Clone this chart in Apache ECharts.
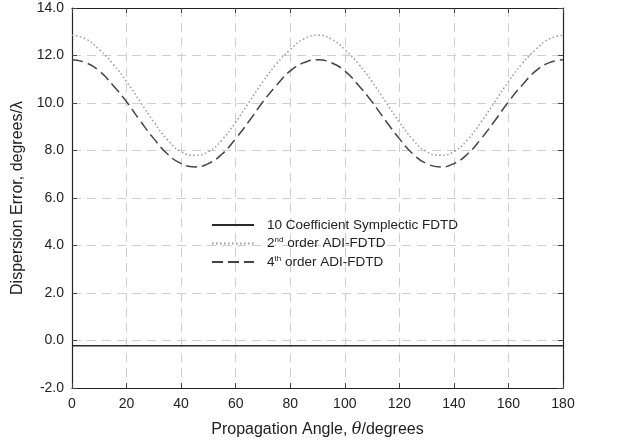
<!DOCTYPE html>
<html>
<head>
<meta charset="utf-8">
<script src="https://cdn.jsdelivr.net/npm/echarts@6/dist/echarts.min.js"></script>
<style>
  html, body { margin: 0; padding: 0; background: #fff; }
  #grafico { width: 623px; height: 443px; }
</style>
</head>
<body>
<div id="grafico"></div>
<script>
// propagation angle, degrees
const angulos = [0, 5, 10, 15, 20, 25, 30, 35, 40, 45, 50, 55, 60, 65, 70, 75, 80, 85, 90,
  95, 100, 105, 110, 115, 120, 125, 130, 135, 140, 145, 150, 155, 160, 165, 170, 175, 180]

// 10 coefficient symplectic FDTD (flat)
const simplectico = [-0.22, -0.22, -0.22, -0.22, -0.22, -0.22, -0.22, -0.22, -0.22, -0.22,
  -0.22, -0.22, -0.22, -0.22, -0.22, -0.22, -0.22, -0.22, -0.22, -0.22, -0.22, -0.22, -0.22,
  -0.22, -0.22, -0.22, -0.22, -0.22, -0.22, -0.22, -0.22, -0.22, -0.22, -0.22, -0.22, -0.22, -0.22]

// 2nd order ADI-FDTD
const adi2 = [12.85, 12.7, 12.25, 11.65, 10.9, 10.05, 9.2, 8.45, 7.95, 7.8, 7.95, 8.45, 9.2, 10.05,
  10.9, 11.65, 12.25, 12.7, 12.85, 12.7, 12.25, 11.65, 10.9, 10.05, 9.2, 8.45, 7.95, 7.8, 7.95,
  8.45, 9.2, 10.05, 10.9, 11.65, 12.25, 12.7, 12.85]

// 4th order ADI-FDTD
const adi4 = [11.82, 11.7, 11.35, 10.75, 10.05, 9.25, 8.5, 7.85, 7.45, 7.31, 7.45, 7.85, 8.5, 9.25,
  10.05, 10.75, 11.35, 11.7, 11.82, 11.7, 11.35, 10.75, 10.05, 9.25, 8.5, 7.85, 7.45, 7.31, 7.45,
  7.85, 8.5, 9.25, 10.05, 10.75, 11.35, 11.7, 11.82]

const nombres = ['10 Coefficient Symplectic FDTD', '2nd order ADI-FDTD', '4th order ADI-FDTD']

const fuente = 'Liberation Sans, Arial, sans-serif'
const par = (ys) => angulos.map((a, i) => [a, ys[i]])

const chart = echarts.init(document.getElementById('grafico'))

const gridLine = {
  show: true,
  lineStyle: { color: '#cfcfcf', type: [9, 6], width: 1 }
}

const option = {
  backgroundColor: '#ffffff',
  animation: false,
  grid: { left: 72, right: 60, top: 8, bottom: 55, show: false },
  legend: {
    left: 206,
    top: 213,
    orient: 'vertical',
    itemWidth: 42,
    itemHeight: 14,
    itemGap: 4,
    data: nombres,
    itemStyle: { opacity: 0 },
    textStyle: {
      fontFamily: fuente,
      fontSize: 13.5,
      color: '#222',
      padding: [0, 0, 0, 8],
      rich: {
        sup: { fontSize: 8, verticalAlign: 'top', padding: [0, 0, 7, 0], fontFamily: fuente, color: '#222' }
      }
    },
    formatter: (n) => {
      if (n === nombres[1]) return '2{sup|nd} order ADI-FDTD'
      if (n === nombres[2]) return '4{sup|th} order ADI-FDTD'
      return n
    }
  },
  xAxis: [
    {
      type: 'value',
      min: 0,
      max: 180,
      interval: 20,
      name: 'Propagation Angle, {it|θ}/degrees',
      nameLocation: 'middle',
      nameGap: 34,
      nameTextStyle: {
        fontFamily: fuente,
        fontSize: 16,
        color: '#222',
        rich: { it: { fontStyle: 'italic', fontFamily: 'DejaVu Serif, serif', fontSize: 16, color: '#222' } }
      },
      axisLine: { show: true, onZero: false, lineStyle: { color: '#222', width: 1.2 } },
      axisTick: { show: true, inside: true, length: 5, lineStyle: { color: '#444' } },
      axisLabel: { fontFamily: fuente, fontSize: 14, color: '#222', margin: 9 },
      splitLine: gridLine
    },
    {
      type: 'value',
      position: 'top',
      min: 0,
      max: 180,
      interval: 20,
      axisLine: { show: true, onZero: false, lineStyle: { color: '#222', width: 1.2 } },
      axisTick: { show: true, inside: true, length: 5, lineStyle: { color: '#444' } },
      axisLabel: { show: false },
      splitLine: { show: false }
    }
  ],
  yAxis: [
    {
      type: 'value',
      min: -2,
      max: 14,
      interval: 2,
      name: 'Dispersion Error, degrees/λ',
      nameLocation: 'middle',
      nameGap: 38,
      nameTextStyle: { fontFamily: fuente, fontSize: 16, color: '#222' },
      axisLine: { show: true, onZero: false, lineStyle: { color: '#222', width: 1.2 } },
      axisTick: { show: true, inside: true, length: 5, lineStyle: { color: '#444' } },
      axisLabel: {
        fontFamily: fuente,
        fontSize: 14,
        color: '#222',
        margin: 8,
        formatter: (v) => v.toFixed(1)
      },
      splitLine: gridLine
    },
    {
      type: 'value',
      position: 'right',
      min: -2,
      max: 14,
      interval: 2,
      axisLine: { show: true, onZero: false, lineStyle: { color: '#222', width: 1.2 } },
      axisTick: { show: true, inside: true, length: 5, lineStyle: { color: '#444' } },
      axisLabel: { show: false },
      splitLine: { show: false }
    }
  ],
  series: [
    {
      name: nombres[0],
      type: 'line',
      symbol: 'none',
      data: par(simplectico),
      lineStyle: { color: '#2a2a2a', width: 1.5, type: 'solid' },
      itemStyle: { color: '#2a2a2a' }
    },
    {
      name: nombres[1],
      type: 'line',
      symbol: 'none',
      smooth: true,
      data: par(adi2),
      lineStyle: { color: '#999999', width: 1.5, type: [1.5, 2.5] },
      itemStyle: { color: '#999999' }
    },
    {
      name: nombres[2],
      type: 'line',
      symbol: 'none',
      smooth: true,
      data: par(adi4),
      lineStyle: { color: '#444444', width: 1.5, type: [11, 5] },
      itemStyle: { color: '#444444' }
    }
  ]
}

chart.setOption(option)
</script>
</body>
</html>
